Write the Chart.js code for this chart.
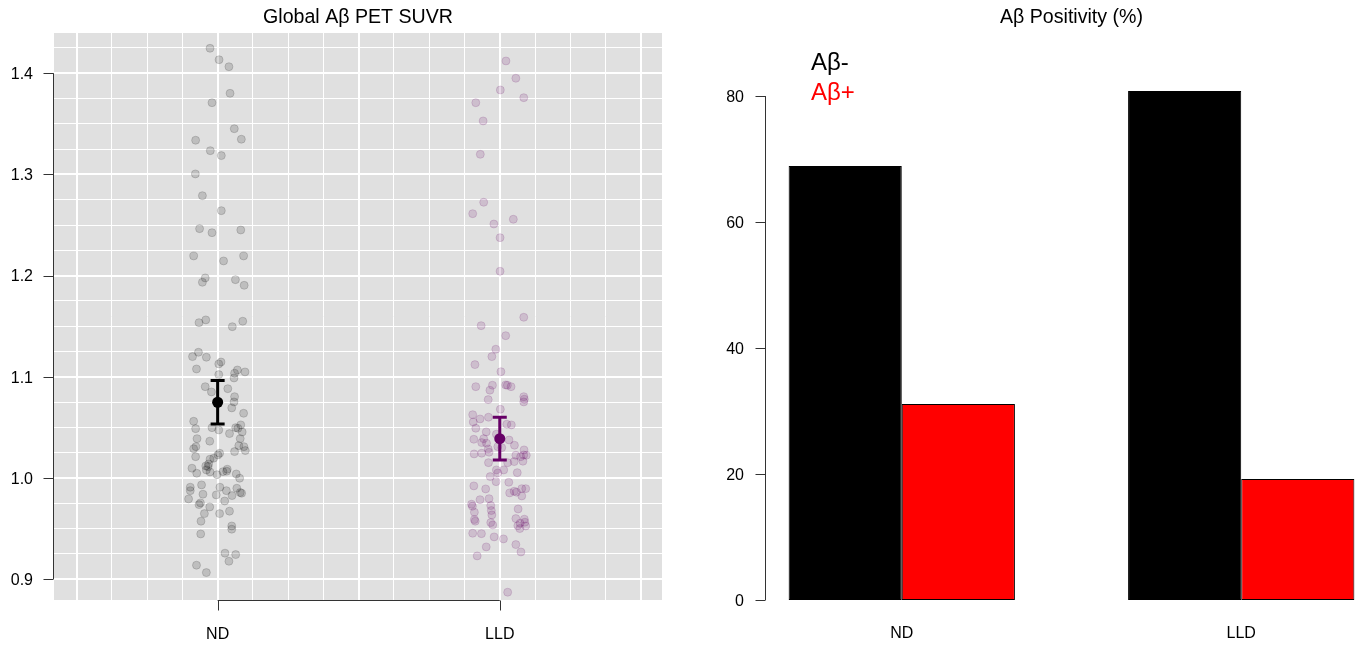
<!DOCTYPE html>
<html><head><meta charset="utf-8">
<script src="https://cdn.jsdelivr.net/npm/chart.js@4/dist/chart.umd.min.js"></script>
<style>
html,body{margin:0;padding:0;background:#fff;overflow:hidden;width:1362px;height:648px;}
#left{position:absolute;left:0;top:0;width:716px;height:648px;}
#right{position:absolute;left:700px;top:0;width:743px;height:648px;}
</style></head><body>
<div id="left"><canvas id="c1"></canvas></div>
<div id="right"><canvas id="c2"></canvas></div>
<script>
// ---------- DATA ----------
const groups = ['ND', 'LLD'];
const groupPos = [1, 2];
const ndJitter = [-0.027,0.005,0.040,0.044,-0.020,0.059,-0.078,0.084,-0.026,0.013,-0.079,-0.054,0.013,-0.064,-0.020,0.082,-0.085,0.021,0.092,-0.044,-0.054,0.063,0.094,-0.066,-0.042,0.052,0.089,-0.068,-0.089,-0.040,0.004,0.012,-0.075,0.004,0.060,0.070,0.097,0.058,-0.044,-0.022,0.036,0.060,0.058,0.050,0.092,-0.085,-0.078,-0.020,0.004,0.064,0.072,0.082,0.087,0.042,-0.073,-0.028,0.080,-0.077,-0.085,0.075,0.093,0.098,0.060,-0.078,0.007,0.001,-0.014,-0.027,-0.032,-0.042,-0.034,-0.091,-0.040,-0.027,-0.074,-0.002,0.019,0.034,0.032,0.066,0.078,0.008,-0.057,-0.097,-0.097,0.031,0.068,0.080,0.085,0.051,-0.052,-0.005,-0.103,0.025,-0.061,-0.066,-0.028,-0.047,0.007,0.042,-0.059,0.050,0.050,-0.060,0.026,0.064,0.040,-0.075,-0.040];
const ndSUVR = [1.4247,1.4134,1.4065,1.3802,1.3709,1.3452,1.3338,1.3348,1.3235,1.3186,1.3005,1.2790,1.2642,1.2464,1.2424,1.2451,1.2194,1.2145,1.2194,1.1977,1.1934,1.1960,1.1904,1.1535,1.1562,1.1495,1.1549,1.1242,1.1199,1.1193,1.1127,1.1146,1.1077,1.1021,1.1035,1.1067,1.1048,1.0988,1.0902,1.0850,1.0882,1.0803,1.0751,1.0692,1.0639,1.0560,1.0487,1.0497,1.0474,1.0497,1.0491,1.0524,1.0454,1.0438,1.0388,1.0363,1.0388,1.0309,1.0289,1.0319,1.0309,1.0270,1.0260,1.0210,1.0244,1.0227,1.0195,1.0185,1.0138,1.0118,1.0111,1.0096,1.0079,1.0059,1.0046,1.0032,1.0062,1.0086,1.0066,1.0039,0.9997,0.9908,0.9931,0.9908,0.9874,0.9874,0.9898,0.9855,0.9849,0.9825,0.9839,0.9832,0.9792,0.9772,0.9753,0.9736,0.9713,0.9647,0.9647,0.9671,0.9572,0.9525,0.9493,0.9446,0.9256,0.9242,0.9176,0.9137,0.9064];
const lldJitter = [0.022,0.057,0.002,0.085,-0.085,-0.059,-0.069,-0.057,-0.096,-0.021,0.048,0.001,0.001,0.085,-0.066,0.021,-0.014,-0.028,-0.088,0.004,-0.085,-0.026,-0.035,0.021,0.027,0.040,-0.041,0.085,0.087,0.085,0.002,-0.096,-0.070,-0.040,-0.094,0.025,0.041,-0.085,-0.048,-0.092,-0.057,-0.064,-0.047,0.033,0.052,-0.012,-0.041,-0.007,-0.091,-0.064,-0.038,0.007,0.057,0.086,0.085,0.094,0.074,0.051,0.082,0.028,-0.040,-0.012,0.014,0.062,-0.007,-0.034,-0.013,0.032,-0.092,-0.050,0.078,0.092,0.035,0.051,0.059,0.078,-0.070,-0.038,-0.100,-0.097,-0.032,0.065,-0.090,-0.030,-0.028,-0.090,-0.087,-0.032,-0.025,0.057,0.087,0.089,0.072,0.064,0.092,0.071,-0.096,-0.065,-0.020,0.013,-0.048,0.057,0.075,-0.080,0.028];
const lldSUVR = [1.4122,1.3951,1.3835,1.3759,1.3709,1.3529,1.3199,1.2725,1.2612,1.2510,1.2557,1.2375,1.2043,1.1588,1.1505,1.1406,1.1272,1.1199,1.1120,1.1050,1.0902,1.0916,1.0867,1.0919,1.0916,1.0902,1.0774,1.0803,1.0778,1.0751,1.0679,1.0625,1.0583,1.0600,1.0553,1.0531,1.0524,1.0491,1.0455,1.0382,1.0388,1.0349,1.0343,1.0375,1.0323,1.0432,1.0286,1.0309,1.0237,1.0244,1.0254,1.0299,1.0224,1.0277,1.0227,1.0224,1.0210,1.0161,1.0165,1.0151,1.0151,1.0079,1.0079,1.0052,1.0049,1.0013,0.9963,0.9957,0.9921,0.9891,0.9894,0.9894,0.9852,0.9868,0.9859,0.9822,0.9785,0.9795,0.9740,0.9720,0.9726,0.9693,0.9661,0.9677,0.9634,0.9588,0.9572,0.9558,0.9535,0.9598,0.9592,0.9562,0.9552,0.9528,0.9525,0.9499,0.9453,0.9449,0.9417,0.9397,0.9318,0.9341,0.9268,0.9229,0.8870];
const meanSUVR = [1.0748, 1.0388];
const errLow = [1.0534, 1.0178];
const errHigh = [1.0962, 1.0600];
const suvrTickValues = [0.9, 1.0, 1.1, 1.2, 1.3, 1.4];
const suvrTickLabels = ['0.9', '1.0', '1.1', '1.2', '1.3', '1.4'];

const posCategories = ['ND', 'LLD'];
const posGroupPos = [2, 5];
const abNegative = [68.9, 80.8];
const abPositive = [31.1, 19.2];
const posTickValues = [0, 20, 40, 60, 80];
const posTickLabels = ['0', '20', '40', '60', '80'];

// ---------- STYLE ----------
const FONT = "'Liberation Sans', Arial, Helvetica, sans-serif";
Chart.defaults.font.family = FONT;
Chart.defaults.color = '#000';
const groupColors = ['#000000', '#660066'];
const pointColors = ['rgba(0,0,0,0.15)', 'rgba(102,0,102,0.15)'];
const near = (a, b) => Math.abs(a - b) < 1e-6;

const panelBg = {
  id: 'panelBg',
  beforeDraw(chart) {
    const {ctx, chartArea: a} = chart;
    ctx.save();
    ctx.fillStyle = '#e0e0e0';
    ctx.fillRect(a.left, a.top, a.right - a.left, a.bottom - a.top);
    ctx.restore();
  }
};

function rAxes(opts) {
  return {
    id: 'rAxes',
    afterDraw(chart) {
      const {ctx, chartArea: a, scales} = chart;
      ctx.save();
      ctx.strokeStyle = '#333';
      ctx.lineWidth = 1;
      if (opts.y) {
        const ys = scales.y, vals = opts.y;
        const x = Math.round(a.left) - 0.5;
        ctx.beginPath();
        ctx.moveTo(x, ys.getPixelForValue(vals[0]));
        ctx.lineTo(x, ys.getPixelForValue(vals[vals.length - 1]));
        vals.forEach(v => {
          const y = Math.round(ys.getPixelForValue(v)) + 0.5;
          ctx.moveTo(x, y); ctx.lineTo(x - 10, y);
        });
        ctx.stroke();
      }
      if (opts.x) {
        const xs = scales.x, vals = opts.x;
        const y = Math.round(a.bottom) + 0.5;
        ctx.beginPath();
        ctx.moveTo(xs.getPixelForValue(vals[0]), y);
        ctx.lineTo(xs.getPixelForValue(vals[vals.length - 1]), y);
        vals.forEach(v => {
          const x = Math.round(xs.getPixelForValue(v)) + 0.5;
          ctx.moveTo(x, y); ctx.lineTo(x, y + 10);
        });
        ctx.stroke();
      }
      ctx.restore();
    }
  };
}

const errorBars = {
  id: 'errorBars',
  afterDatasetsDraw(chart) {
    const {ctx, scales: {x: xs, y: ys}} = chart;
    ctx.save();
    ctx.lineWidth = 3;
    groupPos.forEach((g, i) => {
      const x = xs.getPixelForValue(g);
      const yl = ys.getPixelForValue(errLow[i]);
      const yh = ys.getPixelForValue(errHigh[i]);
      ctx.strokeStyle = groupColors[i];
      ctx.beginPath();
      ctx.moveTo(x, yl); ctx.lineTo(x, yh);
      ctx.moveTo(x - 7, yl); ctx.lineTo(x + 7, yl);
      ctx.moveTo(x - 7, yh); ctx.lineTo(x + 7, yh);
      ctx.stroke();
    });
    ctx.restore();
  }
};

const tickFont = {size: 16, family: FONT};
const spacerAxis = w => ({
  position: 'right', display: true,
  grid: {display: false}, border: {display: false}, ticks: {display: false},
  afterFit: s => { s.width = w; }
});

// ---------- LEFT ----------
new Chart(document.getElementById('c1'), {
  type: 'scatter',
  data: {
    datasets: [
      {label: groups[0],
        data: ndSUVR.map((v, i) => ({x: groupPos[0] + ndJitter[i], y: v})),
        backgroundColor: pointColors[0], borderColor: pointColors[0], borderWidth: 1, pointRadius: 4},
      {label: groups[1],
        data: lldSUVR.map((v, i) => ({x: groupPos[1] + lldJitter[i], y: v})),
        backgroundColor: pointColors[1], borderColor: pointColors[1], borderWidth: 1, pointRadius: 4},
      {label: 'mean',
        data: meanSUVR.map((v, i) => ({x: groupPos[i], y: v})),
        backgroundColor: groupColors, borderColor: groupColors, borderWidth: 0, pointRadius: 5.5}
    ]
  },
  options: {
    animation: false, responsive: true, maintainAspectRatio: false,
    layout: {padding: 0},
    plugins: {
      legend: {display: false}, tooltip: {enabled: false},
      title: {display: true, text: 'Global Aβ PET SUVR', color: '#000',
        font: {size: 19.6, weight: 'normal', family: FONT, lineHeight: 1.2},
        padding: {top: 6, bottom: 3.5}}
    },
    scales: {
      x: {
        type: 'linear', min: 0.42, max: 2.575, offset: false,
        afterBuildTicks: s => { s.ticks = []; for (let k = 0; k <= 16; k++) s.ticks.push({value: 0.5 + k * 0.125}); },
        afterFit: s => { s.height = 48; },
        grid: {color: '#ffffff', drawTicks: false, offset: false,
          lineWidth: c => (c.tick && Math.round(c.tick.value * 8) % 4 === 0) ? 2 : 1},
        border: {display: false},
        ticks: {autoSkip: false, maxRotation: 0, padding: 25, font: tickFont, color: '#000',
          callback: v => { const i = groupPos.findIndex(g => near(g, v)); return i >= 0 ? groups[i] : ''; }}
      },
      y: {
        min: 0.8793, max: 1.4398,
        afterBuildTicks: s => { s.ticks = []; for (let k = 0; k <= 21; k++) s.ticks.push({value: +(0.9 + k * 0.025).toFixed(3)}); },
        afterFit: s => { s.width = 54; },
        grid: {color: '#ffffff', drawTicks: false,
          lineWidth: c => (c.tick && Math.round(c.tick.value * 40) % 4 === 0) ? 2 : 1},
        border: {display: false},
        ticks: {autoSkip: false, padding: 21, labelOffset: 1.5, font: tickFont, color: '#000',
          callback: v => { const i = suvrTickValues.findIndex(t => near(t, v)); return i >= 0 ? suvrTickLabels[i] : ''; }}
      },
      yR: spacerAxis(54)
    }
  },
  plugins: [panelBg, errorBars, rAxes({y: suvrTickValues, x: groupPos})]
});

// ---------- RIGHT ----------
const legendText = {
  id: 'legendText',
  afterDraw(chart) {
    const {ctx, chartArea: a} = chart;
    ctx.save();
    ctx.font = '24px ' + FONT;
    ctx.textAlign = 'left';
    ctx.textBaseline = 'alphabetic';
    chart.data.datasets.forEach((ds, i) => {
      ctx.fillStyle = ds.legendColor;
      ctx.fillText(ds.label, a.left + 45, 70 + i * 30);
    });
    ctx.restore();
  }
};

new Chart(document.getElementById('c2'), {
  type: 'bar',
  data: {
    datasets: [
      {label: 'Aβ-', legendColor: '#000000',
        data: posGroupPos.map((x, i) => ({x, y: abNegative[i]})),
        backgroundColor: '#000000', borderColor: '#000000', borderWidth: 1, borderSkipped: false,
        categoryPercentage: 2 / 3, barPercentage: 1},
      {label: 'Aβ+', legendColor: '#ff0000',
        data: posGroupPos.map((x, i) => ({x, y: abPositive[i]})),
        backgroundColor: '#ff0000', borderColor: '#000000', borderWidth: 1, borderSkipped: false,
        categoryPercentage: 2 / 3, barPercentage: 1}
    ]
  },
  options: {
    animation: false, responsive: true, maintainAspectRatio: false,
    layout: {padding: 0},
    plugins: {
      legend: {display: false}, tooltip: {enabled: false},
      title: {display: true, text: 'Aβ Positivity (%)', color: '#000',
        font: {size: 19.6, weight: 'normal', family: FONT, lineHeight: 1.2},
        padding: {top: 6, bottom: 3.5}}
    },
    scales: {
      x: {
        type: 'linear', min: 0.8, max: 6.2, offset: false,
        afterBuildTicks: s => { s.ticks = posGroupPos.map(v => ({value: v})); },
        afterFit: s => { s.height = 48; },
        grid: {display: false, drawTicks: false, offset: false},
        border: {display: false},
        ticks: {autoSkip: false, maxRotation: 0, padding: 24, font: tickFont, color: '#000',
          callback: v => { const i = posGroupPos.findIndex(g => near(g, v)); return i >= 0 ? posCategories[i] : ''; }}
      },
      y: {
        min: 0, max: 90,
        afterBuildTicks: s => { s.ticks = posTickValues.map(v => ({value: v})); },
        afterFit: s => { s.width = 66; },
        grid: {display: false, drawTicks: false},
        border: {display: false},
        ticks: {autoSkip: false, padding: 22, labelOffset: 1.5, font: tickFont, color: '#000',
          callback: v => { const i = posTickValues.findIndex(t => near(t, v)); return i >= 0 ? posTickLabels[i] : ''; }}
      },
      yR: spacerAxis(66)
    }
  },
  plugins: [legendText, rAxes({y: posTickValues})]
});
</script>
</body></html>
